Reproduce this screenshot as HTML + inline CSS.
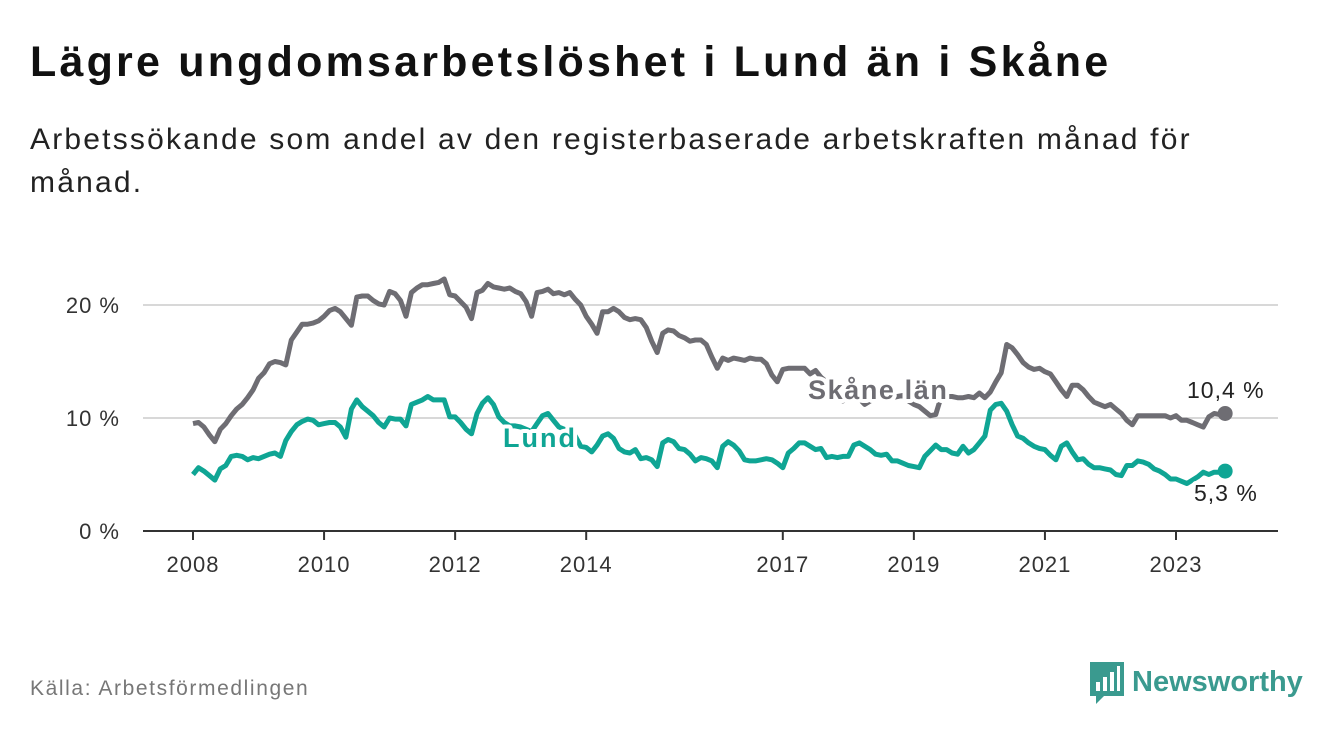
<!DOCTYPE html>
<html><head><meta charset="utf-8">
<style>
body{margin:0;width:1340px;height:734px;background:#fff;font-family:"Liberation Sans",sans-serif;overflow:hidden;position:relative}
h1{position:absolute;left:30px;top:38px;margin:0;font-size:43px;font-weight:bold;color:#111;letter-spacing:3.2px}
.sub{position:absolute;left:30px;top:118px;width:1260px;font-size:30px;line-height:43px;color:#222;letter-spacing:2.2px}
.src{position:absolute;left:30px;top:677px;font-size:21px;color:#777;letter-spacing:1.6px}
</style></head><body>
<h1>Lägre ungdomsarbetslöshet i Lund än i Skåne</h1>
<div class="sub">Arbetssökande som andel av den registerbaserade arbetskraften månad för<br>månad.</div>
<div class="src">Källa: Arbetsförmedlingen</div>
<svg style="position:absolute;left:1088px;top:660px" width="225" height="46">
<path d="M2 2h34v34H16l-8 8v-8H2z" fill="#3a9a8f"/>
<rect x="8" y="22" width="4" height="9" fill="#fff"/><rect x="15" y="17" width="4" height="14" fill="#fff"/><rect x="22" y="12" width="4" height="19" fill="#fff"/><rect x="29" y="6" width="3" height="25" fill="#fff"/>
<text x="44" y="31" font-size="29" font-weight="bold" fill="#3a9a8f" font-family="Liberation Sans, sans-serif">Newsworthy</text>
</svg>
<svg id="chart" style="position:absolute;left:0;top:0" width="1340" height="734"></svg>
<script>
const years=[2008,2010,2012,2014,2017,2019,2021,2023];
const yTicks=[0,10,20];
const skane=[
9.5,9.6,9.2,8.5,7.9,9.0,9.5,10.2,10.8,11.2,11.8,12.5,
13.5,14.0,14.8,15.0,14.9,14.7,16.9,17.6,18.3,18.3,18.4,18.6,
19.0,19.5,19.7,19.4,18.8,18.2,20.7,20.8,20.8,20.4,20.1,20.0,
21.2,21.0,20.4,19.0,21.1,21.5,21.8,21.8,21.9,22.0,22.3,20.9,
20.8,20.3,19.8,18.8,21.1,21.3,21.9,21.6,21.5,21.4,21.5,21.2,
21.0,20.3,19.0,21.1,21.2,21.4,21.0,21.1,20.9,21.1,20.5,20.0,
19.0,18.3,17.5,19.4,19.4,19.7,19.4,18.9,18.7,18.8,18.7,18.0,
16.8,15.8,17.5,17.8,17.7,17.3,17.1,16.8,16.9,16.9,16.5,15.4,
14.4,15.3,15.1,15.3,15.2,15.1,15.3,15.2,15.2,14.8,13.8,13.2,
14.3,14.4,14.4,14.4,14.4,13.9,14.2,13.6,13.2,12.6,12.0,11.5,
12.8,12.3,11.7,11.2,11.5,12.0,12.2,12.0,11.8,11.9,12.0,11.5,
11.2,11.0,10.6,10.2,10.3,11.9,11.9,11.9,11.8,11.8,11.9,11.8,
12.2,11.8,12.3,13.2,14.0,16.5,16.2,15.6,14.9,14.5,14.3,14.4,
14.1,13.9,13.2,12.5,11.9,12.9,12.9,12.5,11.9,11.4,11.2,11.0,
11.2,10.8,10.4,9.8,9.4,10.2,10.2,10.2,10.2,10.2,10.2,10.0,
10.2,9.8,9.8,9.6,9.4,9.2,10.1,10.4,10.3,10.4];
const lund=[
5.0,5.6,5.3,4.9,4.5,5.5,5.8,6.6,6.7,6.6,6.3,6.5,
6.4,6.6,6.8,6.9,6.6,8.0,8.8,9.4,9.7,9.9,9.8,9.4,
9.5,9.6,9.6,9.2,8.3,10.8,11.6,11.0,10.6,10.2,9.6,9.2,
10.0,9.9,9.9,9.3,11.2,11.4,11.6,11.9,11.6,11.6,11.6,10.1,
10.1,9.6,9.0,8.6,10.4,11.3,11.8,11.2,10.1,9.6,9.3,9.3,
9.2,9.0,8.8,9.5,10.2,10.4,9.8,9.2,9.0,8.6,8.4,7.5,
7.4,7.0,7.6,8.4,8.6,8.2,7.3,7.0,6.9,7.2,6.4,6.5,
6.3,5.7,7.8,8.1,7.9,7.3,7.2,6.8,6.2,6.5,6.4,6.2,
5.6,7.5,7.9,7.6,7.1,6.3,6.2,6.2,6.3,6.4,6.3,6.0,
5.6,6.9,7.3,7.8,7.8,7.5,7.2,7.3,6.5,6.6,6.5,6.6,
6.6,7.6,7.8,7.5,7.2,6.8,6.7,6.8,6.2,6.2,6.0,5.8,
5.7,5.6,6.6,7.1,7.6,7.2,7.2,6.9,6.8,7.5,6.9,7.2,
7.8,8.4,10.7,11.2,11.3,10.6,9.4,8.4,8.2,7.8,7.5,7.3,
7.2,6.7,6.3,7.5,7.8,7.0,6.3,6.4,5.9,5.6,5.6,5.5,
5.4,5.0,4.9,5.8,5.8,6.2,6.1,5.9,5.5,5.3,5.0,4.6,
4.6,4.4,4.2,4.5,4.8,5.2,5.0,5.2,5.2,5.3];
const endLabels=["10,4 %","5,3 %"];
</script>
<script>
const svg=document.getElementById('chart');const NS='http://www.w3.org/2000/svg';
const X0=193,PXY=(1176-193)/15;
const xYear=y=>X0+(y-2008)*PXY;
const xIdx=i=>X0+i*PXY/12;
const yV=v=>531-v*11.3;
function mk(t,a,p){const e=document.createElementNS(NS,t);for(const k in a)e.setAttribute(k,a[k]);(p||svg).appendChild(e);return e;}
yTicks.forEach(t=>{
 const l=mk('line',{x1:143,x2:1278,y1:yV(t),y2:yV(t),stroke:t===0?'#333':'#d8d8d8','stroke-width':2});
 
 
 const tx=mk('text',{x:120,y:yV(t)+8,'text-anchor':'end','font-size':22,'letter-spacing':1,fill:'#333'});tx.textContent=t+' %';
 
 
});
years.forEach(y=>{
 const l=mk('line',{x1:xYear(y),x2:xYear(y),y1:531,y2:540,stroke:'#333','stroke-width':2});
 
 
 const tx=mk('text',{x:xYear(y),y:572,'text-anchor':'middle','font-size':22,'letter-spacing':1,fill:'#333'});tx.textContent=y;
 
 
});
function line(data,color,name){
 const p=mk('path',{d:data.map((v,i)=>(i?'L':'M')+xIdx(i).toFixed(1)+' '+yV(v).toFixed(1)).join(''),fill:'none',stroke:color,'stroke-width':5,'stroke-linejoin':'round'});
 
 
 const n=data.length-1;
 const c=mk('circle',{cx:xIdx(n),cy:yV(data[n]),r:7.5,fill:color});
 
 
}
line(skane,'#6e6d73','skane');
line(lund,'#0fa594','lund');
function lab(txt,x,y,color,bold,name,ls){
 const t=mk('text',{x:x,y:y,'font-size':bold?27:23,'font-weight':bold?'bold':'normal','letter-spacing':ls,fill:color,stroke:'#fff','stroke-width':8,'paint-order':'stroke','stroke-linejoin':'round'});
 t.textContent=txt;
 
 
}
lab('Skåne län',808,399,'#6e6d73',true,'skane-series-label',1.6);
lab('Lund',503,447,'#0fa594',true,'lund-series-label',2);
lab(endLabels[0],1187,398,'#222',false,'skane-end-value',1);
lab(endLabels[1],1194,501,'#222',false,'lund-end-value',1);
</script>
</body></html>
